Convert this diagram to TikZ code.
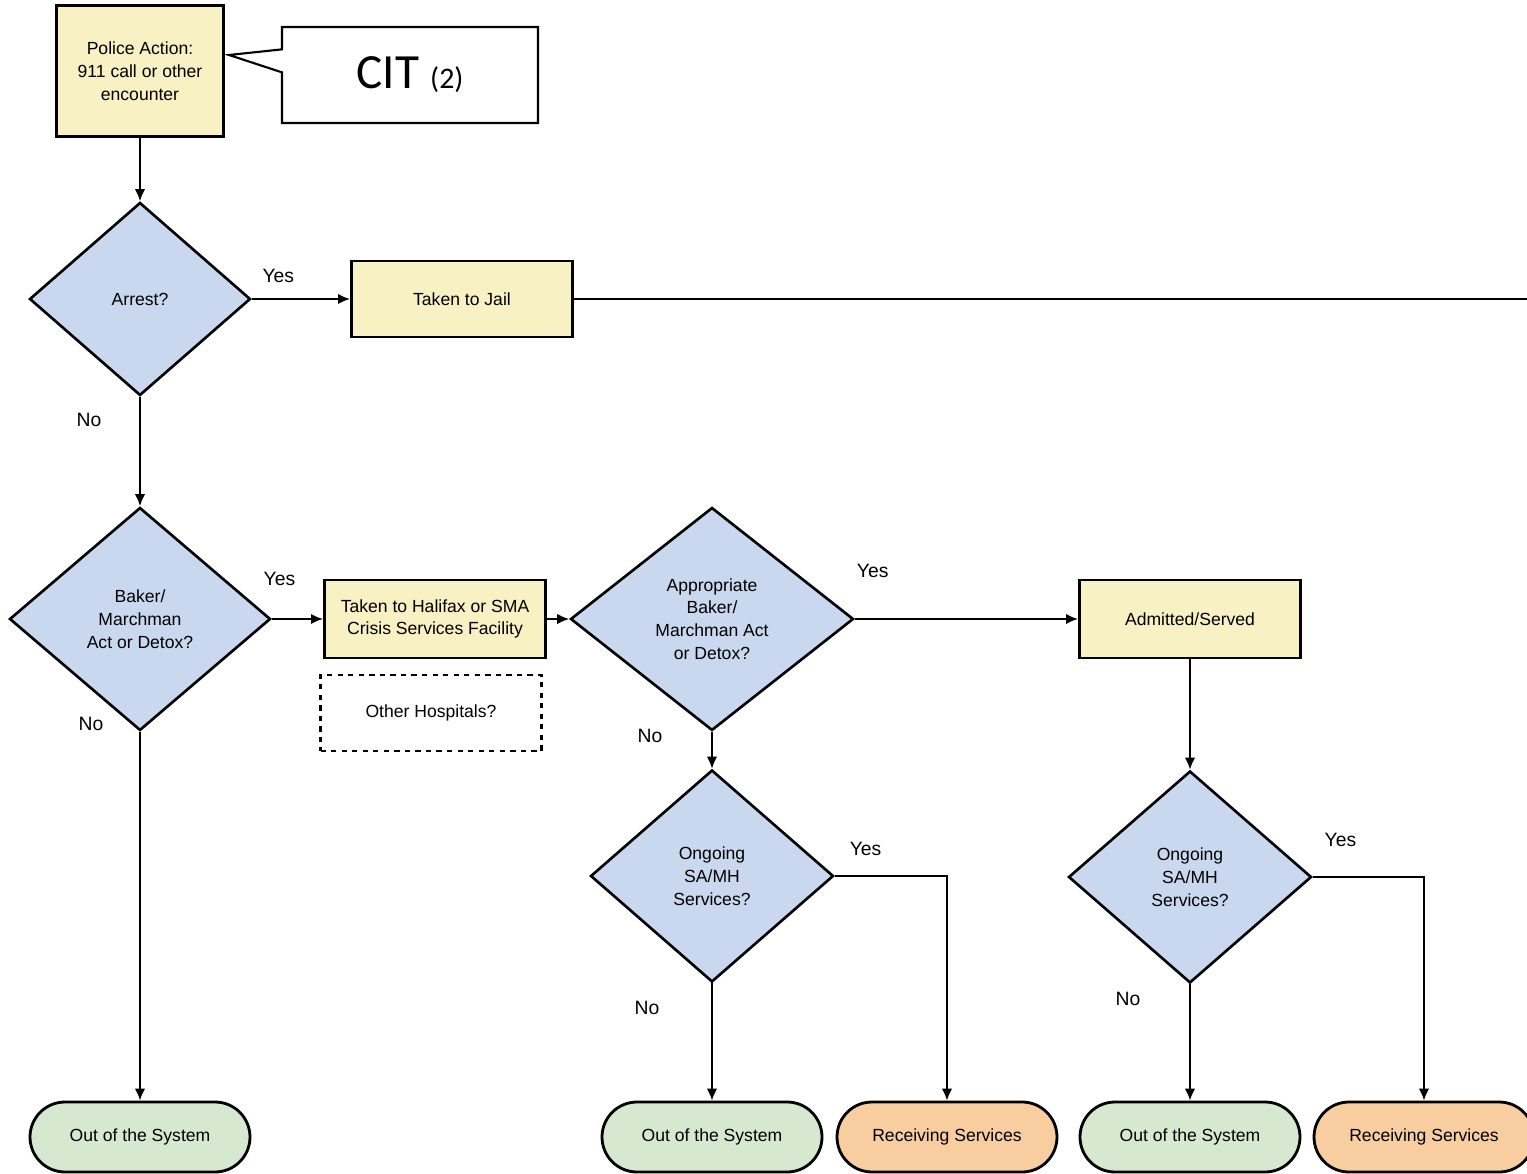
\documentclass[tikz,border=0pt]{standalone}
\usepackage{fontspec}
\setmainfont{Liberation Sans}
\newfontfamily\citfont{Carlito}
\usetikzlibrary{shapes.geometric, shapes.callouts, arrows, arrows.meta, positioning}
\definecolor{boxyellow}{RGB}{248,241,196}
\definecolor{diamblue}{RGB}{201,216,238}
\definecolor{endgreen}{RGB}{214,232,207}
\definecolor{endorange}{RGB}{248,206,160}
\tikzstyle{process} = [rectangle,
minimum width=4.42cm,
minimum height=1.54cm,
align=center,
draw=black,line width=1.7pt,fill=boxyellow,
font=\fontsize{10}{13}\selectfont]
\tikzstyle{decision} = [diamond,
inner sep=0pt,
align=center,
draw=black,line width=1.5pt,fill=diamblue,
font=\fontsize{10}{13}\selectfont]
\tikzstyle{startstop} = [rectangle, rounded corners=0.7cm, minimum width=4.4cm, minimum height=1.4cm,align=center, draw=black,line width=1.6pt,font=\fontsize{10}{13}\selectfont]
\tikzstyle{maybe} = [rectangle, minimum width=4.42cm, minimum height=1.52cm, align=center, draw=black, dashed, line width=1.4pt, font=\fontsize{10}{13}\selectfont]
\tikzstyle{note} = [rectangle callout, minimum width=5.12cm, minimum height=1.92cm, callout pointer width=0.46cm, draw=black, line width=1.2pt, fill=white]
\tikzstyle{lbl} = [font=\fontsize{11}{13}\selectfont]
\tikzstyle{arrow} = [line width=1.1pt,->,>={Latex[length=2.4mm,width=2.1mm]}]
\tikzstyle{line} = [line width=1.1pt]

\begin{document}
\begin{tikzpicture}[node distance=1.5cm]
\useasboundingbox (0,0) rectangle (30.54,-23.48);

\node (start) [process, minimum width=3.34cm, minimum height=2.62cm] at (2.8,-1.42) {Police Action:\\911 call or other\\encounter};
\node (cit) [note, node distance=5.4cm, right of=start, yshift=-0.08cm,
  callout absolute pointer={([xshift=0.08cm,yshift=0.32cm]start.east)}] {\citfont\fontsize{28}{32}\selectfont CIT {\fontsize{17}{20}\selectfont (2)}};
\node (arrest) [decision, node distance=4.56cm, below of=start, minimum width=4.42cm, minimum height=3.86cm] {Arrest?};
\node (jail) [process, node distance=6.44cm, right of=arrest, minimum height=1.52cm] {Taken to Jail};
\node (baker) [decision, node distance=6.4cm, below of=arrest, minimum width=5.22cm, minimum height=4.46cm] {Baker/\\Marchman\\Act or Detox?};
\node (halifax) [process, node distance=5.9cm, right of=baker, minimum height=1.56cm] {Taken to Halifax or SMA\\Crisis Services Facility};
\node (other) [maybe, node distance=1.88cm, below of=halifax, xshift=-0.08cm] {Other Hospitals?};
\node (approp) [decision, node distance=5.54cm, right of=halifax, minimum width=5.66cm, minimum height=4.46cm] {Appropriate\\Baker/\\Marchman Act\\or Detox?};
\node (admit) [process, node distance=9.56cm, right of=approp, minimum height=1.56cm] {Admitted/Served};
\node (ongo1) [decision, node distance=5.14cm, below of=approp, minimum width=4.86cm, minimum height=4.24cm] {Ongoing\\SA/MH\\Services?};
\node (ongo2) [decision, node distance=5.16cm, below of=admit, minimum width=4.86cm, minimum height=4.24cm] {Ongoing\\SA/MH\\Services?};
\node (out1) [startstop, fill=endgreen, node distance=10.36cm, below of=baker] {Out of the System};
\node (out2) [startstop, fill=endgreen, node distance=5.22cm, below of=ongo1] {Out of the System};
\node (recv1) [startstop, fill=endorange, node distance=4.7cm, right of=out2] {Receiving Services};
\node (out3) [startstop, fill=endgreen, node distance=5.2cm, below of=ongo2] {Out of the System};
\node (recv2) [startstop, fill=endorange, node distance=4.68cm, right of=out3] {Receiving Services};
\coordinate (edgeR) at (30.54,0);

\draw [arrow] (start) -- (arrest);
\draw [arrow] (arrest.east) -- node[lbl, pos=0.27, yshift=0.46cm] (y1) {Yes} (jail.west);
\draw [line] (jail.east) -- (jail.east -| edgeR);
\draw [arrow] (arrest.south) -- node[lbl, pos=0.21, xshift=-1.02cm] (n1) {No} (baker.north);
\draw [arrow] (baker.east) -- node[lbl, pos=0.15, yshift=0.8cm] (y2) {Yes} (halifax.west);
\draw [arrow] (baker.south) -- node[lbl, pos=0, xshift=-0.98cm, yshift=0.16cm] (n2) {No} (out1.north);
\draw [arrow] (halifax.east) -- (approp.west);
\draw [arrow] (approp.east) -- node[lbl, pos=0.08, yshift=0.96cm] (y3) {Yes} (admit.west);
\draw [arrow] (approp.south) -- node[lbl, pos=0.1, xshift=-1.24cm] (n3) {No} (ongo1.north);
\draw [arrow] (admit.south) -- (ongo2.north);
\draw [arrow] (ongo1.east) -| node[lbl, pos=0.137, yshift=0.54cm] (y4) {Yes} (recv1.north);
\draw [arrow] (ongo1.south) -- node[lbl, pos=0.21, xshift=-1.3cm] (n4) {No} (out2.north);
\draw [arrow] (ongo2.east) -| node[lbl, pos=0.124, yshift=0.74cm] (y5) {Yes} (recv2.north);
\draw [arrow] (ongo2.south) -- node[lbl, pos=0.13, xshift=-1.24cm] (n5) {No} (out3.north);

\end{tikzpicture}
\end{document}
